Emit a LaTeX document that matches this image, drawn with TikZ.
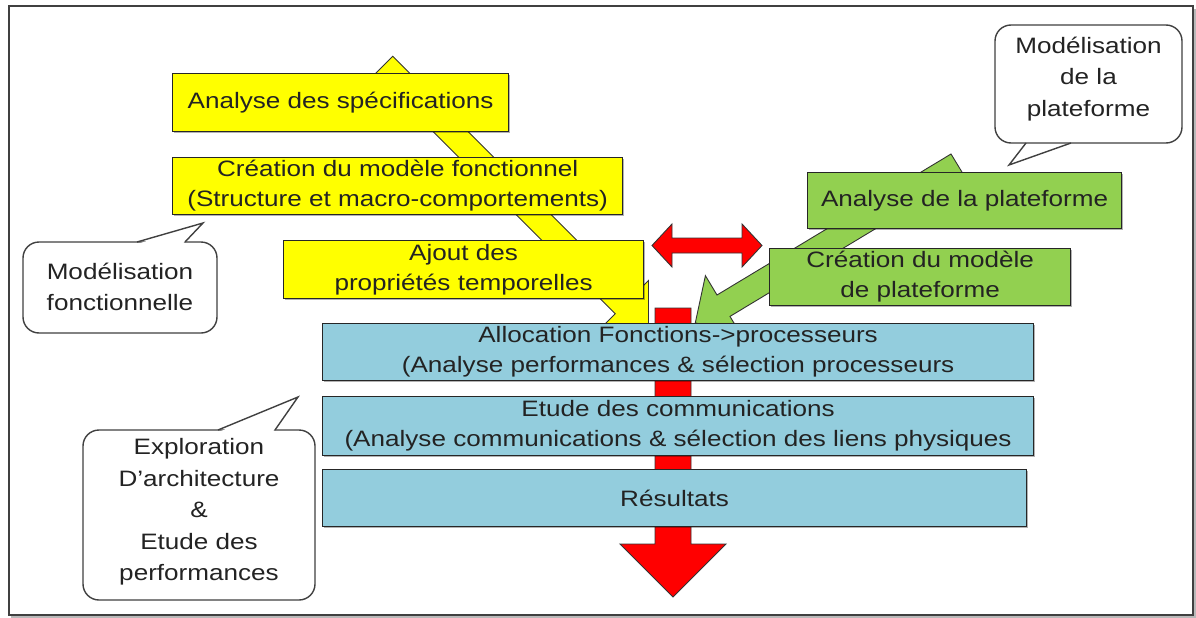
\documentclass[tikz,border=0pt]{standalone}
\usepackage{fontspec}
\setmainfont{Liberation Sans}[FakeStretch=1.17]
\usetikzlibrary{shadows}

\definecolor{boxyellow}{RGB}{255,255,0}
\definecolor{boxgreen}{RGB}{146,208,80}
\definecolor{boxblue}{RGB}{147,205,221}
\definecolor{arrowred}{RGB}{255,0,0}
\definecolor{inkgray}{RGB}{35,35,35}

\begin{document}
\begin{tikzpicture}[x=1pt,y=-1pt,
  txt/.style={font=\fontsize{22.3}{30}\selectfont, text=inkgray, inner sep=0pt, align=center},
  stepbox/.style={txt, draw=black!85, line width=1.2pt, anchor=north west,
    drop shadow={shadow xshift=1.5pt, shadow yshift=-1.8pt, opacity=0.3, fill=black}},
  yellowbox/.style={stepbox, fill=boxyellow},
  greenbox/.style={stepbox, fill=boxgreen},
  bluebox/.style={stepbox, fill=boxblue},
  blockarrow/.style={draw=black!80, line width=0.9pt, line join=miter},
  bubble/.style={draw=black!75, line width=1.4pt, fill=white, rounded corners=16pt},
  bubbleedge/.style={draw=black!75, line width=1.4pt, line join=miter},
  bubbletext/.style={txt, font=\fontsize{22.3}{31.5}\selectfont}
]
\useasboundingbox (0,0) rectangle (1196,618);

% outer frame with its shadow
\draw[gray!55, line width=2pt] (11,617) -- (1194.5,617) -- (1194.5,9);
\draw[black!75, line width=2pt] (8.5,6.5) rectangle (1192.5,615);

% yellow flow arrow (functional modelling), running behind the yellow steps
\coordinate (ya1) at (392.75,56.25);
\coordinate (ya2) at (632.75,296.25);
\coordinate (ya3) at (648.5,280.5);
\coordinate (ya4) at (648.5,329.5);
\coordinate (ya5) at (599.5,329.5);
\coordinate (ya6) at (615.25,313.75);
\coordinate (ya7) at (375.25,73.75);
\filldraw[blockarrow, fill=boxyellow] (ya1) -- (ya2) -- (ya3) -- (ya4) -- (ya5) -- (ya6) -- (ya7) -- cycle;

% green flow arrow (platform modelling)
\coordinate (ga1) at (951,154);
\coordinate (ga2) at (717,295);
\coordinate (ga3) at (705.4,275.7);
\coordinate (ga4) at (695.3,322.8);
\coordinate (ga5) at (741.6,335.7);
\coordinate (ga6) at (730,316.4);
\coordinate (ga7) at (964,175.4);
\filldraw[blockarrow, fill=boxgreen] (ga1) -- (ga2) -- (ga3) -- (ga4) -- (ga5) -- (ga6) -- (ga7) -- cycle;

% red main flow arrow down through the exploration steps
\coordinate (ra1) at (655,308);
\coordinate (ra2) at (691,308);
\coordinate (ra3) at (691,544);
\coordinate (ra4) at (726,544);
\coordinate (ra5) at (673,597);
\coordinate (ra6) at (620,544);
\coordinate (ra7) at (655,544);
\filldraw[blockarrow, fill=arrowred] (ra1) -- (ra2) -- (ra3) -- (ra4) -- (ra5) -- (ra6) -- (ra7) -- cycle;

% functional modelling steps
\node[yellowbox, minimum width=336pt, minimum height=58pt] (spec) at (172,73) {Analyse des spécifications};
\node[yellowbox, minimum width=450pt, minimum height=57pt] (fonc) at (172,157)
  {Création du modèle fonctionnel\\(Structure et macro-comportements)};
\node[yellowbox, minimum width=360pt, minimum height=58pt] (temp) at (283,240)
  {Ajout des\\propriétés temporelles};

% platform modelling steps
\node[greenbox, minimum width=314pt, minimum height=56pt] (aplat) at (807,172) {Analyse de la plateforme};
\node[greenbox, minimum width=301pt, minimum height=57pt] (cplat) at (769,248)
  {Création du modèle\\de plateforme};

% red double arrow between the two modelling branches
\coordinate (da1) at (652,245.5);
\coordinate (da2) at (672,224);
\coordinate (da3) at (672,238);
\coordinate (da4) at (742,238);
\coordinate (da5) at (742,224);
\coordinate (da6) at (762,245.5);
\coordinate (da7) at (742,267);
\coordinate (da8) at (742,253);
\coordinate (da9) at (672,253);
\coordinate (da10) at (672,267);
\filldraw[blockarrow, fill=arrowred] (da1) -- (da2) -- (da3) -- (da4) -- (da5) -- (da6)
  -- (da7) -- (da8) -- (da9) -- (da10) -- cycle;

% architecture exploration steps
\node[bluebox, minimum width=711pt, minimum height=57pt] (alloc) at (322,323)
  {Allocation Fonctions->processeurs\\(Analyse performances \& sélection processeurs};
\node[bluebox, minimum width=711pt, minimum height=59pt] (comm) at (322,396)
  {Etude des communications\\(Analyse communications \& sélection des liens physiques};
\node[bluebox, minimum width=704pt, minimum height=57pt] (res) at (322,469) {Résultats};

% callout: platform modelling
\draw[bubble] (995,25) rectangle (1182,143);
\fill[white] (1028,144.5) -- (1009,165) -- (1069,144.5) -- cycle;
\draw[bubbleedge] (1026,143) -- (1009,165) -- (1071,143);
\node[bubbletext] (cplatf) at (1088.5,79) {Modélisation\\de la\\plateforme};

% callout: functional modelling
\draw[bubble] (23,242) rectangle (217,333);
\fill[white] (139,243.5) -- (203,223) -- (183,243.5) -- cycle;
\draw[bubbleedge] (137,242) -- (203,223) -- (185,242);
\node[bubbletext] (cfonc) at (120,287) {Modélisation\\fonctionnelle};

% callout: architecture exploration
\draw[bubble] (83,430) rectangle (315,600);
\fill[white] (220,431.5) -- (298,397) -- (273,431.5) -- cycle;
\draw[bubbleedge] (218,430) -- (298,397) -- (275,430);
\node[bubbletext] (cexpl) at (199,512) {Exploration\\D'architecture\\\&\\Etude des\\performances};

\end{tikzpicture}
\end{document}
